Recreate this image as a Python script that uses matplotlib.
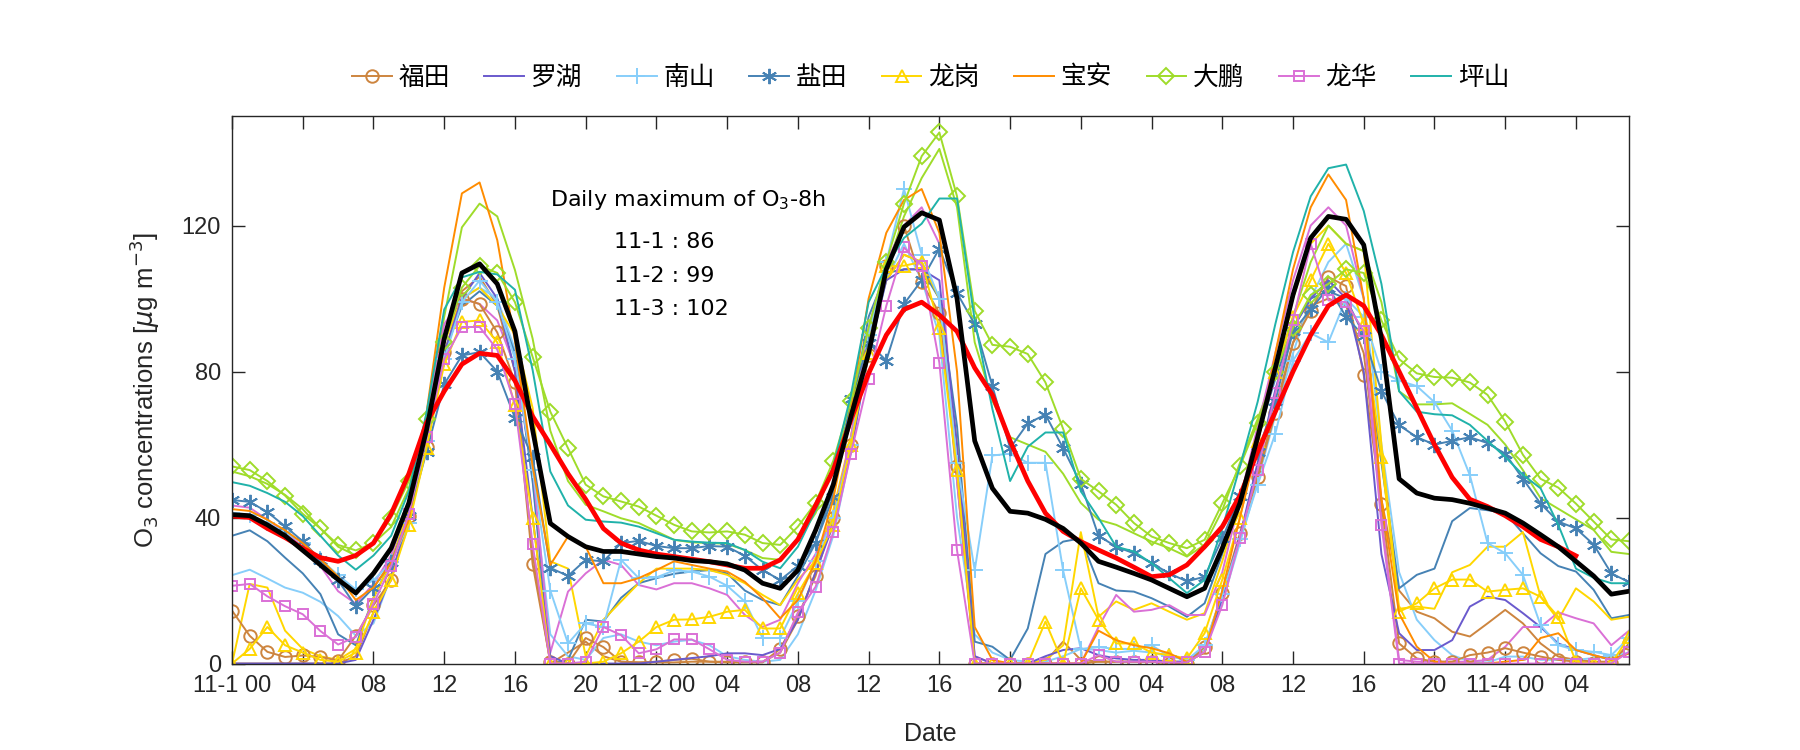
import numpy as np
import matplotlib
matplotlib.use("Agg")
import matplotlib.pyplot as plt

plt.rcParams["font.family"] = ["Liberation Sans", "Noto Sans CJK SC", "DejaVu Sans"]
plt.rcParams["axes.unicode_minus"] = False

# 11-1 00 ~ 11-4 07, hourly
hours = np.arange(80)

# ── stations in legend ─────────────────────────────────────────
futian = [14.5, 7.6, 3.2, 1.8, 2.2, 1.8, 0.8, 7.6, 16, 22.8,
          40.4, 59.4, 85.3, 100, 98.5, 90.7, 77, 27.2, 0.5, 0,
          7, 4.5, 0.5, 0.3, 0.5, 1, 1.3, 0.5, 0.3, 0.3,
          0.3, 4, 13, 24, 40, 60, 84.4, 108.8, 120, 104.4,
          96, 54, 0, 0, 0, 0, 0, 0, 0, 0.5,
          0.5, 0.5, 0.5, 0, 0, 4.6, 19.2, 35.7, 51, 68.7,
          87.8, 96.6, 105.9, 103.4, 79, 43.8, 5.5, 1.4, 0.5, 0.5,
          2.3, 3, 4.2, 3, 1.9, 1, 0.5, 0.2, 0.2, 5.5]
luohu = [0, 0, 0, 0, 0, 0, 0, 1, 12, 24,
         40, 62, 85, 100, 107, 100, 80, 40, 2, 0,
         0, 0, 0, 0, 0.5, 1, 1.5, 2, 2.8, 2.8,
         2.3, 4, 12, 25, 38, 58, 85, 105, 108, 108,
         105, 60, 2, 0, 0, 0, 2, 3.7, 4.2, 2.3,
         1.4, 1, 1, 0.5, 0.5, 3, 18, 35, 55, 75,
         92, 100, 105, 100, 80, 30, 8.3, 3.7, 3.7, 6.4,
         15.6, 18.3, 17.4, 13.8, 10, 5.5, 3.7, 2.3, 1, 2.8]
nanshan = [41.3, 40.8, 38.4, 36, 33, 28.6, 24.2, 20.3, 22.8, 27.7,
           38.4, 61, 83.4, 99, 104.9, 99, 83.4, 53, 20, 5.5,
           11, 10, 28.4, 23.4, 23.6, 25.5, 25.2, 23.8, 21.3, 17,
           7, 7, 17, 28, 40, 60, 90, 110, 130, 112,
           100, 55, 25.5, 57, 57.5, 55, 55, 25.5, 4, 4.5,
           4, 4, 5, 2, 1, 5, 19, 34, 49, 63,
           83, 90.5, 88, 100, 95, 80, 77.5, 76, 71.6, 63.8,
           51.6, 33, 30.2, 24.3, 10.5, 5, 3.7, 3.2, 2.3, 7]
yantian = [44.8, 44.3, 41.5, 37.6, 33.5, 28.4, 22.8, 15.7, 20.8, 27.7,
           40.4, 58, 76.5, 84.4, 85.3, 80, 67.3, 56.5, 26.2, 24,
           28.4, 28, 33, 33.6, 32.2, 31.6, 31.6, 32.2, 32, 29.5,
           25.6, 22.9, 26.7, 33, 45.7, 72.6, 87.8, 83, 98.5, 105,
           113.7, 101.5, 93, 76, 59, 65.8, 68.2, 59, 49.2, 35,
           32, 30.2, 27.5, 24.7, 22.5, 23.8, 34.3, 45.8, 58, 72,
           91, 97, 103, 95, 89.7, 74.6, 65.3, 62, 60, 61,
           62, 60.4, 57.5, 50.6, 43.8, 38.9, 37, 32.6, 24.7, 22.3]
longgang = [0, 4, 10, 5, 3, 1, 0.5, 3, 14, 23,
            38, 59, 82, 93.6, 94, 88, 70.7, 40, 0, 0,
            0, 0.5, 2.8, 6, 10, 12, 12.1, 12.8, 14.2, 14.7,
            9.6, 9.6, 19.2, 27.5, 38, 60, 85, 108.8, 109, 110,
            92, 53, 0, 0, 0, 0, 11.5, 0, 20.6, 12,
            5.5, 5.5, 3, 2.3, 1.4, 8.3, 23, 40, 61, 80,
            95, 105, 115, 107, 93, 56.5, 14.2, 16.5, 20.6, 23,
            23, 19.7, 20.2, 20.6, 18.3, 12.8, 0.5, 0, 0, 7.3]
baoan = [42.3, 41.8, 39.4, 36.5, 33, 28.6, 23.8, 17.4, 20.8, 27.7,
         39.4, 68.7, 103, 128.8, 131.8, 116, 88.3, 54, 27, 34.8,
         32, 22, 22, 23.4, 25.6, 28, 27, 26, 25.2, 22.4,
         17.9, 12.4, 17.4, 28, 45, 70, 100, 118, 127, 130,
         118, 80, 10, 1, 0, 0, 0, 0, 0, 9,
         6.4, 5, 4.2, 2.8, 0.5, 3, 20, 40, 60, 85,
         108, 125, 134, 127, 100, 45, 13.7, 4.6, 0.5, 0,
         0, 0, 0.5, 1, 7, 8.3, 3.7, 2.3, 1, 2.8]
dapeng = [54, 53, 50, 46, 41, 37, 32.5, 31, 33, 40,
          50, 67, 88, 103, 109, 107, 99, 84, 69, 59,
          49, 45.8, 44.4, 43, 40.5, 38, 36.2, 35.9, 36.2, 35.3,
          33, 32.5, 37.5, 44, 55.5, 72, 92, 110, 126, 139,
          145.5, 128, 96.6, 87.3, 86.8, 84.8, 77, 64.3, 50.6, 47.2,
          43.5, 38.5, 34.8, 33, 31.6, 33.9, 43.9, 54, 66, 80,
          92, 101, 104, 108, 107, 94, 83.4, 79.5, 78.5, 78.3,
          77, 73.6, 66.3, 57.2, 50.6, 48.2, 43.8, 38.9, 34, 33.5]
longhua = [21.3, 21.8, 18.4, 15.7, 13.5, 8.9, 5.2, 7.3, 16.4, 26.7,
           41, 62, 83.4, 92.2, 92.2, 86, 71, 32.7, 0, 0,
           0.5, 10, 7.8, 2.8, 3.9, 6.6, 6.6, 3.9, 1, 0.5,
           0.5, 3, 14, 21, 36, 57.5, 78, 98, 114, 109,
           82.4, 31, 0, 0, 0, 0, 0, 0, 0, 2.3,
           0.5, 0.5, 0.5, 0.3, 0.3, 3.2, 16, 34.5, 53, 74,
           94, 115, 99.5, 99, 91, 38, 0, 0, 0, 0,
           0, 0, 0, 0, 0, 0, 0, 0, 0, 3.2]
pingshan = [49.7, 48.7, 46.7, 44.3, 40.4, 35, 29.6, 25.7, 29.6, 35,
            47.2, 68.7, 97, 105.8, 107.3, 106.6, 102.4, 80.4, 52.6, 43.3,
            39.4, 38.9, 38.6, 37.5, 35.7, 33.9, 33.4, 33.1, 33, 31.1,
            27.9, 26.1, 32, 42, 54, 73.6, 99, 108.8, 116.6, 120.5,
            127.4, 127.4, 94, 69.7, 50, 59.4, 63.3, 63.3, 47.2, 39.9,
            32, 30.7, 27.5, 23.4, 19.3, 22.9, 37, 54, 71.7, 93,
            112.7, 128, 135.7, 136.7, 124, 104, 74.6, 69, 68.3, 68,
            65.4, 61, 56.6, 51.7, 48, 38, 26, 23.5, 22, 22]

# ── other stations (same colours, no markers, not in legend) ──
futian_b = [0, 0, 0, 0, 0, 0, 0, 2, 14, 24,
            40, 60, 88, 102, 106, 98, 80, 30, 0, 3,
            6, 2, 0.5, 0.3, 0.3, 0.3, 0.5, 0.5, 0.5, 0.5,
            0.5, 3, 12, 25, 40, 62, 90, 105, 112, 110,
            100, 50, 0, 0, 0, 0, 0.5, 6, 1, 0.5,
            0.5, 0.5, 0.5, 0.5, 0.5, 4, 18, 35, 52, 70,
            88, 98, 100, 98, 85, 45, 20, 14.2, 12.4, 8.7,
            7.4, 11, 14.7, 11, 5.5, 1.9, 1, 0.5, 0.5, 5]
nanshan_b = [24.2, 25.7, 23.3, 20.8, 19.4, 16.9, 13, 7.6, 11, 24,
             38, 62, 84, 100, 103, 100, 86, 50, 8, 2,
             1, 7, 8, 6, 5, 6, 6.5, 5, 2, 1,
             0.5, 1, 8, 20, 35, 58, 85, 105, 115, 105,
             90, 40, 8, 3, 1, 0.5, 0.5, 2, 4, 3.7,
             3, 3.5, 3, 2, 1, 4, 17, 33, 50, 68,
             85, 100, 110, 115, 100, 60, 25, 12, 6.4, 2.3,
             0.5, 0.3, 1.9, 1.9, 1, 1, 1, 1.5, 2, 3]
yantian_b = [35, 36.5, 33.5, 29, 24.7, 19, 8, 5, 18, 28,
             42, 62, 85, 98, 102, 98, 85, 50, 0, 1,
             12, 11.5, 18, 22, 23.4, 24.6, 25.2, 25.6, 24.7, 20,
             17.4, 16, 24, 33, 48, 68, 95, 107, 108, 108,
             100, 65, 6, 4.6, 1, 9.6, 30, 33.4, 34.3, 22,
             20, 19.7, 17.9, 15.6, 12.8, 16.5, 30, 45, 62, 78,
             92, 100, 102, 100, 90, 55, 20.6, 24.3, 26, 39,
             42.6, 42, 41.2, 35.7, 30.2, 26.7, 25.2, 20.2, 12.4, 13.3]
longgang_b = [0, 21.8, 20.8, 9, 4, 2, 1, 4, 18, 28,
              42, 62, 88, 100, 103, 98, 90, 70, 28, 26,
              2, 12, 17, 22, 26, 26, 26, 25.6, 24.3, 22,
              18.8, 16, 23, 28, 42, 62, 88, 105, 112, 110,
              100, 60, 0, 0, 0, 0, 1, 5, 36, 12.8,
              17, 14.7, 16.5, 14.2, 12, 13.8, 28, 45, 64, 82,
              100, 115, 120, 115, 113, 60, 15, 15.6, 15, 25,
              27, 32, 32, 36, 18.3, 12, 20.6, 17, 12, 12.8]
dapeng_b = [52.6, 51.3, 49.2, 46.2, 42.3, 37, 32, 29.6, 33, 37.4,
            48, 67.7, 95, 119.5, 126, 122.5, 107.8, 89, 63.8, 50,
            43.5, 41.7, 39.8, 38.5, 36.2, 33.9, 33.2, 33, 32.8, 31.1,
            28.9, 28.4, 33.9, 41.2, 54, 70, 87, 108, 122.5, 133,
            141, 125, 88, 72, 62, 60, 58, 52, 44, 39.4,
            38, 35.7, 33.4, 31.6, 29.3, 32.5, 42, 55, 67, 80,
            95, 110, 120, 115, 113, 99, 74.6, 71, 71, 71.3,
            68.4, 65.4, 60, 53, 45.3, 42.4, 39.5, 36.6, 30.6, 30]
longhua_b = [43.3, 42.7, 39.4, 36, 32, 26.7, 19.8, 16.4, 21.8, 29.6,
             44.3, 66.8, 93, 100, 98.5, 94, 81.4, 54, 3, 19.7,
             24.7, 28.4, 27, 21.5, 20.3, 22, 22, 20.6, 18.8, 13.3,
             10, 12, 22, 30, 40, 62, 92, 110, 120, 125,
             115, 50, 2, 0, 0, 0, 0, 0, 0, 10,
             18.8, 14.2, 14.7, 16, 13.3, 13.3, 25, 45, 65, 85,
             105, 120, 125, 120, 100, 40, 1, 0.5, 0.5, 0.5,
             0.5, 1, 4.6, 10, 10, 14, 12.4, 11, 5, 9]

# 全市平均 (black) / O3-8h 滑动平均 (red, 到 11-4 04)
city_mean = [40.8, 40.5, 38, 35, 31, 27, 23, 19.3, 24.7, 31.6,
             44, 64, 89, 107, 109.5, 104, 91, 64, 38.4, 34.8,
             32, 30.7, 30.7, 30, 29.3, 28.9, 28.2, 27.9, 27.3, 25.6,
             22, 20.6, 25.6, 36.5, 49, 67.7, 85, 108, 119.6, 123.5,
             121.5, 100, 61, 48, 41.7, 41.2, 39.5, 37, 33, 28,
             26.4, 24.7, 22.9, 20.6, 18.3, 20.6, 31.6, 44, 62, 81,
             101, 116.6, 122.5, 121.7, 114.7, 89, 50.6, 46.7, 45.3, 44.9,
             43.9, 42.6, 41.2, 38.5, 35.3, 32, 28, 24, 19, 19.8]
o3_8h = [40.4, 40, 37, 34.5, 31.6, 29, 28, 29.6, 33, 41,
         52, 66, 74.6, 82, 85, 84.4, 77.5, 67.7, 60, 52,
         45, 37, 33, 31.1, 30, 29.3, 28.6, 27.9, 27, 26.1,
         26.1, 28.4, 34, 43.3, 53, 66.8, 79.5, 90, 97, 99,
         95.5, 91, 81, 73.6, 61, 50, 41.2, 36.2, 33.4, 31.1,
         28.9, 26.4, 23.8, 24.3, 27, 32, 37.5, 46, 58, 69,
         80, 90, 98, 101, 98, 90, 80, 70, 60, 51,
         45, 43, 40.5, 37.5, 34, 32, 29.5]

tick_hours = np.arange(0, 80, 4)
tick_labels = ["11-1 00", "04", "08", "12", "16", "20",
               "11-2 00", "04", "08", "12", "16", "20",
               "11-3 00", "04", "08", "12", "16", "20",
               "11-4 00", "04"]

daily_max = [("11-1", 86), ("11-2", 99), ("11-3", 102)]

C_FT = "#CD853F"
C_LH = "#6A5ACD"
C_NS = "#87CEFA"
C_YT = "#4682B4"
C_LG = "#FFD700"
C_BA = "#FF8C00"
C_DP = "#9FDC2A"
C_LHU = "#DA70D6"
C_PS = "#20B2AA"

fig = plt.figure(figsize=(18, 7.5), dpi=100)
ax = fig.add_axes([0.1289, 0.1153, 0.7761, 0.730])

lw = 1.4
# extra stations first (underneath)
ax.plot(hours, futian_b, color=C_FT, lw=lw)
ax.plot(hours, nanshan_b, color=C_NS, lw=lw)
ax.plot(hours, yantian_b, color=C_YT, lw=lw)
ax.plot(hours, longgang_b, color=C_LG, lw=lw)
ax.plot(hours, dapeng_b, color=C_DP, lw=lw)
ax.plot(hours, longhua_b, color=C_LHU, lw=lw)

mk = dict(markerfacecolor="none", markeredgewidth=1.4)
ax.plot(hours, futian, color=C_FT, lw=lw, marker="o", markersize=9, label="福田", **mk)
ax.plot(hours, luohu, color=C_LH, lw=lw, label="罗湖")
ax.plot(hours, nanshan, color=C_NS, lw=lw, marker="+", markersize=11, label="南山", **mk)
ax.plot(hours, yantian, color=C_YT, lw=lw, marker=(6, 2, 0), markersize=11, label="盐田", **mk)
ax.plot(hours, longgang, color=C_LG, lw=lw, marker="^", markersize=9, label="龙岗", **mk)
ax.plot(hours, baoan, color=C_BA, lw=lw, label="宝安")
ax.plot(hours, dapeng, color=C_DP, lw=lw, marker="D", markersize=8, label="大鹏", **mk)
ax.plot(hours, longhua, color=C_LHU, lw=lw, marker="s", markersize=7, label="龙华", **mk)
ax.plot(hours, pingshan, color=C_PS, lw=lw, label="坪山")

ax.plot(hours[:len(o3_8h)], o3_8h, color="red", lw=3.4)
ax.plot(hours, city_mean, color="black", lw=3.4)

ax.set_xlim(0, 79)
ax.set_ylim(0, 150)
ax.set_xticks(tick_hours)
ax.set_xticklabels(tick_labels)
ax.set_yticks([0, 40, 80, 120])
ax.tick_params(direction="in", length=9.5, width=1, top=True, right=True,
               labelsize=17, colors="#262626", pad=8)
for s in ax.spines.values():
    s.set_linewidth(1)
    s.set_color("#262626")

ax.set_xlabel("Date", fontsize=18, color="#262626", labelpad=18)
ax.set_ylabel(r"O$_3$ concentrations [$\mu$g m$^{-3}$]", fontsize=18.5,
              color="#262626", labelpad=14)

ax.text(18.0, 127, r"Daily maximum of O$_3$-8h", fontsize=16, family="DejaVu Sans",
        va="center", ha="left")
for i, (day, val) in enumerate(daily_max):
    ax.text(21.6, 115.6 - 9.3 * i, f"{day} : {val}", fontsize=16,
            family="DejaVu Sans", va="center", ha="left")

ax.legend(loc="center", bbox_to_anchor=(0.5, 1.07), ncol=9, frameon=False,
          prop={"family": ["Noto Sans CJK SC", "DejaVu Sans"], "size": 18.5},
          handlelength=1.55, handletextpad=0.25, columnspacing=1.35)

fig.savefig("out.png", dpi=100)
